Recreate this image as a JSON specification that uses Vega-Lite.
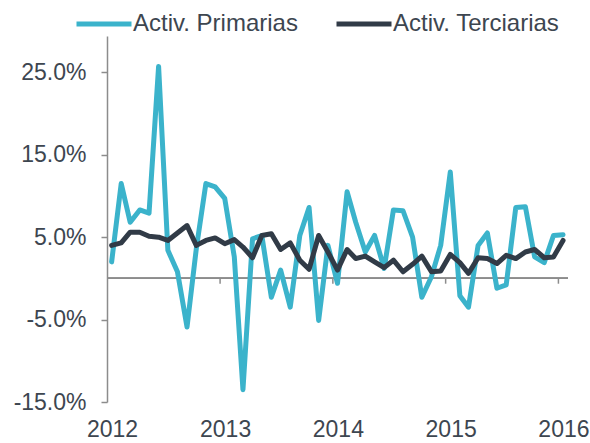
{
  "$schema": "https://vega.github.io/schema/vega-lite/v6.json",
  "width": 461,
  "height": 366,
  "autosize": {"type": "none"},
  "padding": {"left": 107, "top": 36, "right": 22, "bottom": 41},
  "background": "white",
  "config": {
    "view": {"stroke": null},
    "font": "Liberation Sans",
    "axisY": {
      "domainColor": "#8c8c8c", "domainWidth": 1.5,
      "tickColor": "#8c8c8c", "tickWidth": 1.5, "tickSize": 6,
      "labelFontSize": 23, "labelColor": "#3d4650", "labelPadding": 15,
      "grid": false, "title": null
    },
    "axisX": {
      "domain": false, "ticks": false, "grid": false, "title": null,
      "labelFontSize": 23, "labelColor": "#3d4650", "labelPadding": 16,
      "labelOverlap": false, "labelFlush": false
    }
  },
  "datasets": {
    "years": [
      {"date": "2013-01-01"}, {"date": "2014-01-01"}, {"date": "2015-01-01"}, {"date": "2016-01-01"}
    ],
    "series": [
      {"date": "2012-01-16", "series": "Activ. Primarias", "value": 2.0},
      {"date": "2012-02-16", "series": "Activ. Primarias", "value": 11.5},
      {"date": "2012-03-16", "series": "Activ. Primarias", "value": 6.8},
      {"date": "2012-04-16", "series": "Activ. Primarias", "value": 8.3},
      {"date": "2012-05-16", "series": "Activ. Primarias", "value": 7.9},
      {"date": "2012-06-16", "series": "Activ. Primarias", "value": 25.7},
      {"date": "2012-07-16", "series": "Activ. Primarias", "value": 3.4},
      {"date": "2012-08-16", "series": "Activ. Primarias", "value": 0.8},
      {"date": "2012-09-16", "series": "Activ. Primarias", "value": -5.9},
      {"date": "2012-10-16", "series": "Activ. Primarias", "value": 3.6},
      {"date": "2012-11-16", "series": "Activ. Primarias", "value": 11.5},
      {"date": "2012-12-16", "series": "Activ. Primarias", "value": 11.1},
      {"date": "2013-01-16", "series": "Activ. Primarias", "value": 9.7},
      {"date": "2013-02-16", "series": "Activ. Primarias", "value": 2.6},
      {"date": "2013-03-16", "series": "Activ. Primarias", "value": -13.5},
      {"date": "2013-04-16", "series": "Activ. Primarias", "value": 4.8},
      {"date": "2013-05-16", "series": "Activ. Primarias", "value": 5.2},
      {"date": "2013-06-16", "series": "Activ. Primarias", "value": -2.3},
      {"date": "2013-07-16", "series": "Activ. Primarias", "value": 1.0},
      {"date": "2013-08-16", "series": "Activ. Primarias", "value": -3.5},
      {"date": "2013-09-16", "series": "Activ. Primarias", "value": 5.2},
      {"date": "2013-10-16", "series": "Activ. Primarias", "value": 8.6},
      {"date": "2013-11-16", "series": "Activ. Primarias", "value": -5.1},
      {"date": "2013-12-16", "series": "Activ. Primarias", "value": 4.0},
      {"date": "2014-01-16", "series": "Activ. Primarias", "value": -0.6},
      {"date": "2014-02-16", "series": "Activ. Primarias", "value": 10.5},
      {"date": "2014-03-16", "series": "Activ. Primarias", "value": 6.8},
      {"date": "2014-04-16", "series": "Activ. Primarias", "value": 3.2},
      {"date": "2014-05-16", "series": "Activ. Primarias", "value": 5.2},
      {"date": "2014-06-16", "series": "Activ. Primarias", "value": 1.2},
      {"date": "2014-07-16", "series": "Activ. Primarias", "value": 8.3},
      {"date": "2014-08-16", "series": "Activ. Primarias", "value": 8.2},
      {"date": "2014-09-16", "series": "Activ. Primarias", "value": 5.0},
      {"date": "2014-10-16", "series": "Activ. Primarias", "value": -2.3},
      {"date": "2014-11-16", "series": "Activ. Primarias", "value": 0.2},
      {"date": "2014-12-16", "series": "Activ. Primarias", "value": 4.0},
      {"date": "2015-01-16", "series": "Activ. Primarias", "value": 12.9},
      {"date": "2015-02-16", "series": "Activ. Primarias", "value": -2.1},
      {"date": "2015-03-16", "series": "Activ. Primarias", "value": -3.5},
      {"date": "2015-04-16", "series": "Activ. Primarias", "value": 4.0},
      {"date": "2015-05-16", "series": "Activ. Primarias", "value": 5.5},
      {"date": "2015-06-16", "series": "Activ. Primarias", "value": -1.2},
      {"date": "2015-07-16", "series": "Activ. Primarias", "value": -0.8},
      {"date": "2015-08-16", "series": "Activ. Primarias", "value": 8.6},
      {"date": "2015-09-16", "series": "Activ. Primarias", "value": 8.7},
      {"date": "2015-10-16", "series": "Activ. Primarias", "value": 2.6},
      {"date": "2015-11-16", "series": "Activ. Primarias", "value": 1.9},
      {"date": "2015-12-16", "series": "Activ. Primarias", "value": 5.2},
      {"date": "2016-01-16", "series": "Activ. Primarias", "value": 5.3},
      {"date": "2012-01-16", "series": "Activ. Terciarias", "value": 4.0},
      {"date": "2012-02-16", "series": "Activ. Terciarias", "value": 4.3},
      {"date": "2012-03-16", "series": "Activ. Terciarias", "value": 5.6},
      {"date": "2012-04-16", "series": "Activ. Terciarias", "value": 5.6},
      {"date": "2012-05-16", "series": "Activ. Terciarias", "value": 5.1},
      {"date": "2012-06-16", "series": "Activ. Terciarias", "value": 5.0},
      {"date": "2012-07-16", "series": "Activ. Terciarias", "value": 4.6},
      {"date": "2012-08-16", "series": "Activ. Terciarias", "value": 5.5},
      {"date": "2012-09-16", "series": "Activ. Terciarias", "value": 6.4},
      {"date": "2012-10-16", "series": "Activ. Terciarias", "value": 4.0},
      {"date": "2012-11-16", "series": "Activ. Terciarias", "value": 4.6},
      {"date": "2012-12-16", "series": "Activ. Terciarias", "value": 4.9},
      {"date": "2013-01-16", "series": "Activ. Terciarias", "value": 4.2},
      {"date": "2013-02-16", "series": "Activ. Terciarias", "value": 4.7},
      {"date": "2013-03-16", "series": "Activ. Terciarias", "value": 3.8},
      {"date": "2013-04-16", "series": "Activ. Terciarias", "value": 2.5},
      {"date": "2013-05-16", "series": "Activ. Terciarias", "value": 5.2},
      {"date": "2013-06-16", "series": "Activ. Terciarias", "value": 5.4},
      {"date": "2013-07-16", "series": "Activ. Terciarias", "value": 3.5},
      {"date": "2013-08-16", "series": "Activ. Terciarias", "value": 4.3},
      {"date": "2013-09-16", "series": "Activ. Terciarias", "value": 2.2},
      {"date": "2013-10-16", "series": "Activ. Terciarias", "value": 1.1},
      {"date": "2013-11-16", "series": "Activ. Terciarias", "value": 5.2},
      {"date": "2013-12-16", "series": "Activ. Terciarias", "value": 3.2},
      {"date": "2014-01-16", "series": "Activ. Terciarias", "value": 1.0},
      {"date": "2014-02-16", "series": "Activ. Terciarias", "value": 3.5},
      {"date": "2014-03-16", "series": "Activ. Terciarias", "value": 2.4},
      {"date": "2014-04-16", "series": "Activ. Terciarias", "value": 2.7},
      {"date": "2014-05-16", "series": "Activ. Terciarias", "value": 2.0},
      {"date": "2014-06-16", "series": "Activ. Terciarias", "value": 1.3},
      {"date": "2014-07-16", "series": "Activ. Terciarias", "value": 2.2},
      {"date": "2014-08-16", "series": "Activ. Terciarias", "value": 0.8},
      {"date": "2014-09-16", "series": "Activ. Terciarias", "value": 1.7},
      {"date": "2014-10-16", "series": "Activ. Terciarias", "value": 2.7},
      {"date": "2014-11-16", "series": "Activ. Terciarias", "value": 0.8},
      {"date": "2014-12-16", "series": "Activ. Terciarias", "value": 0.9},
      {"date": "2015-01-16", "series": "Activ. Terciarias", "value": 2.9},
      {"date": "2015-02-16", "series": "Activ. Terciarias", "value": 1.9},
      {"date": "2015-03-16", "series": "Activ. Terciarias", "value": 0.6},
      {"date": "2015-04-16", "series": "Activ. Terciarias", "value": 2.5},
      {"date": "2015-05-16", "series": "Activ. Terciarias", "value": 2.4},
      {"date": "2015-06-16", "series": "Activ. Terciarias", "value": 1.8},
      {"date": "2015-07-16", "series": "Activ. Terciarias", "value": 2.8},
      {"date": "2015-08-16", "series": "Activ. Terciarias", "value": 2.4},
      {"date": "2015-09-16", "series": "Activ. Terciarias", "value": 3.2},
      {"date": "2015-10-16", "series": "Activ. Terciarias", "value": 3.5},
      {"date": "2015-11-16", "series": "Activ. Terciarias", "value": 2.5},
      {"date": "2015-12-16", "series": "Activ. Terciarias", "value": 2.6},
      {"date": "2016-01-16", "series": "Activ. Terciarias", "value": 4.6}
    ]
  },
  "layer": [
    {
      "data": {"name": "years"},
      "mark": {"type": "rule", "color": "#8c8c8c", "strokeWidth": 1.5},
      "encoding": {
        "x": {
          "field": "date", "type": "temporal",
          "axis": {
            "values": [
              {"year": 2012, "month": 1, "date": 1, "utc": true},
              {"year": 2013, "month": 1, "date": 1, "utc": true},
              {"year": 2014, "month": 1, "date": 1, "utc": true},
              {"year": 2015, "month": 1, "date": 1, "utc": true},
              {"year": 2016, "month": 1, "date": 1, "utc": true}
            ],
            "labelExpr": "utcFormat(datum.value, '%Y')",
            "labelOffset": 5
          }
        },
        "y": {"datum": 0},
        "y2": {"datum": -0.65}
      }
    },
    {
      "data": {"name": "years"},
      "mark": {"type": "rule", "color": "#8c8c8c", "strokeWidth": 1.5},
      "encoding": {"y": {"datum": 0}}
    },
    {
      "data": {"name": "series"},
      "mark": {"type": "line", "strokeWidth": 5, "strokeCap": "round", "strokeJoin": "round"},
      "encoding": {
        "x": {
          "field": "date", "type": "temporal",
          "scale": {"type": "utc", "domain": [{"year": 2012, "month": 1, "date": 1, "utc": true}, {"year": 2016, "month": 2, "date": 1, "utc": true}]},
          "axis": {
            "values": [
              {"year": 2012, "month": 1, "date": 1, "utc": true},
              {"year": 2013, "month": 1, "date": 1, "utc": true},
              {"year": 2014, "month": 1, "date": 1, "utc": true},
              {"year": 2015, "month": 1, "date": 1, "utc": true},
              {"year": 2016, "month": 1, "date": 1, "utc": true}
            ],
            "labelExpr": "utcFormat(datum.value, '%Y')",
            "labelOffset": 5
          }
        },
        "y": {
          "field": "value", "type": "quantitative",
          "scale": {"domain": [-15, 29.4], "nice": false, "zero": false},
          "axis": {
            "values": [-15, -5, 5, 15, 25],
            "labelExpr": "(datum.value < 0 ? '-' : '') + format(abs(datum.value), '.1f') + '%'"
          }
        },
        "color": {
          "field": "series", "type": "nominal",
          "scale": {"domain": ["Activ. Primarias", "Activ. Terciarias"], "range": ["#3BB3CB", "#313B47"]},
          "legend": {
            "orient": "none", "legendX": -33, "legendY": -42, "direction": "horizontal",
            "title": null, "padding": 0,
            "symbolType": "stroke", "symbolSize": 3025, "symbolStrokeWidth": 5,
            "labelFontSize": 24, "labelColor": "#3d4650", "labelOffset": -1,
            "columnPadding": 28, "labelLimit": 300
          }
        }
      }
    }
  ]
}
